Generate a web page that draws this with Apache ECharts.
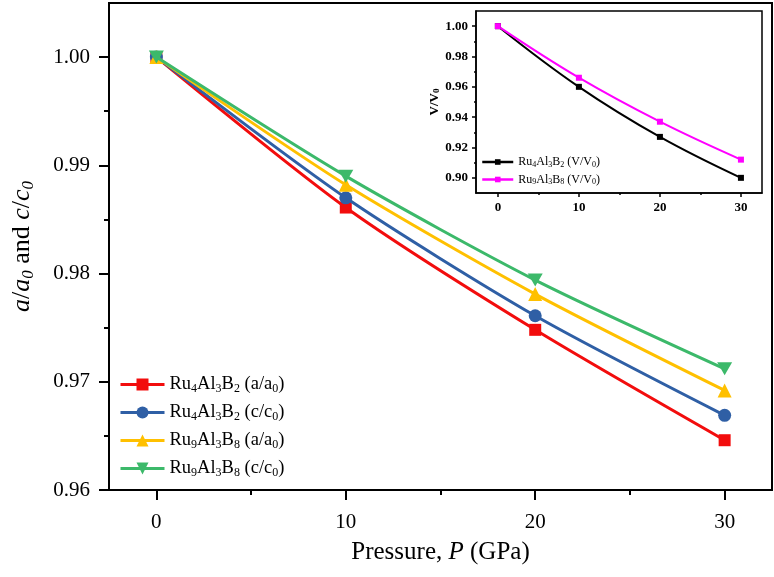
<!DOCTYPE html>
<html>
<head>
<meta charset="utf-8">
<script src="https://cdn.jsdelivr.net/npm/echarts@6/dist/echarts.min.js"></script>
<style>html,body{margin:0;padding:0;background:#fff}#c{width:774px;height:577px}</style>
</head>
<body>
<div id="c"></div>
<script>
// ---- data ----
var pressure = [0, 10, 20, 30];
var ru4A = [1.0000, 0.9861, 0.9748, 0.9646];
var ru4C = [1.0000, 0.9870, 0.9761, 0.9669];
var ru9A = [1.0000, 0.9882, 0.9781, 0.9692];
var ru9C = [1.0000, 0.9890, 0.9794, 0.9712];
var ru4V = [1.000, 0.960, 0.927, 0.900];
var ru9V = [1.000, 0.966, 0.937, 0.912];
var mainXTicks = [0, 10, 20, 30];
var mainXMinor = [5, 15, 25];
var mainYTicks = [0.96, 0.97, 0.98, 0.99, 1.00];
var mainYMinor = [0.965, 0.975, 0.985, 0.995];
var insetXTicks = [0, 10, 20, 30];
var insetXMinor = [5, 15, 25];
var insetYTicks = [0.90, 0.92, 0.94, 0.96, 0.98, 1.00];
var insetYMinor = [0.91, 0.93, 0.95, 0.97, 0.99];
var names = ['Ru4Al3B2 (a/a0)', 'Ru4Al3B2 (c/c0)', 'Ru9Al3B8 (a/a0)', 'Ru9Al3B8 (c/c0)'];
var insetNames = ['Ru4Al3B2 (V/V0)', 'Ru9Al3B8 (V/V0)'];

var FONT = "'Liberation Serif','Times New Roman',serif";
function pairs(xs, ys) { return xs.map(function (x, i) { return [x, ys[i]]; }); }
function richName(n) {
  var m = n.match(/^Ru(\d)Al(\d)B(\d) \((\w)\/(\w)(\d)\)$/);
  return '{n|Ru}{s|' + m[1] + '}{n|Al}{s|' + m[2] + '}{n|B}{s|' + m[3] + '}{n| (' + m[4] + '/' + m[5] + '}{s|' + m[6] + '}{n|)}';
}

var chart = echarts.init(document.getElementById('c'));

function majorX(grid, min, max, vals, fs, bold, len, lw, margin) {
  return {
    type: 'value', gridIndex: grid, min: min, max: max, position: 'bottom',
    axisLine: { show: true, onZero: false, lineStyle: { color: '#000', width: lw } },
    axisTick: { show: true, inside: false, length: len, customValues: vals, lineStyle: { color: '#000', width: lw } },
    axisLabel: { show: true, customValues: vals, margin: margin, color: '#000', fontFamily: FONT, fontSize: fs, fontWeight: bold ? 'bold' : 'normal' },
    splitLine: { show: false }
  };
}
function minorX(grid, min, max, vals, len, lw) {
  return {
    type: 'value', gridIndex: grid, min: min, max: max, position: 'bottom',
    axisLine: { show: false, onZero: false },
    axisTick: { show: true, length: len, customValues: vals, lineStyle: { color: '#000', width: lw } },
    axisLabel: { show: false }, splitLine: { show: false }
  };
}
function majorY(grid, min, max, vals, fs, bold, len, lw, margin) {
  return {
    type: 'value', gridIndex: grid, min: min, max: max, position: 'left',
    axisLine: { show: true, onZero: false, lineStyle: { color: '#000', width: lw } },
    axisTick: { show: true, inside: false, length: len, customValues: vals, lineStyle: { color: '#000', width: lw } },
    axisLabel: { show: true, customValues: vals, margin: margin, color: '#000', fontFamily: FONT, fontSize: fs, fontWeight: bold ? 'bold' : 'normal',
      formatter: function (v) { return v.toFixed(2); } },
    splitLine: { show: false }
  };
}
function minorY(grid, min, max, vals, len, lw) {
  return {
    type: 'value', gridIndex: grid, min: min, max: max, position: 'left',
    axisLine: { show: false, onZero: false },
    axisTick: { show: true, length: len, customValues: vals, lineStyle: { color: '#000', width: lw } },
    axisLabel: { show: false }, splitLine: { show: false }
  };
}

var xMain = majorX(0, -2.5, 32.5, mainXTicks, 21, false, 10, 2, 22);
xMain.name = '{n|Pressure, }{i|P}{n| (GPa)}';
xMain.nameLocation = 'middle';
xMain.nameGap = 50;
xMain.nameTextStyle = { color: '#000', fontFamily: FONT, fontSize: 25,
  rich: { n: { fontFamily: FONT, fontSize: 25, color: '#000' }, i: { fontFamily: FONT, fontSize: 25, fontStyle: 'italic', color: '#000' } } };

var yMain = majorY(0, 0.96, 1.005, mainYTicks, 21, false, 10, 2, 19);
yMain.name = '{i|a}{n|/}{i|a}{si|0}{n| and }{i|c}{n|/}{i|c}{si|0}';
yMain.nameLocation = 'middle';
yMain.nameGap = 72;
yMain.nameRotate = 90;
yMain.nameTextStyle = { color: '#000', fontFamily: FONT, fontSize: 26,
  rich: {
    n: { fontFamily: FONT, fontSize: 26, color: '#000' },
    i: { fontFamily: FONT, fontSize: 26, fontStyle: 'italic', color: '#000' },
    si: { fontFamily: FONT, fontSize: 17, fontStyle: 'italic', color: '#000', padding: [12, 0, 0, 0] }
  } };

var xIn = majorX(1, -2.7, 32.6, insetXTicks, 13, true, 4, 1.5, 8);
var yIn = majorY(1, 0.89, 1.01, insetYTicks, 13, true, 4, 1.5, 8);
yIn.name = '{b|V/V}{bs|0}';
yIn.nameLocation = 'middle';
yIn.nameGap = 32;
yIn.nameRotate = 90;
yIn.nameTextStyle = { color: '#000', fontFamily: FONT, fontSize: 13, fontWeight: 'bold',
  rich: { b: { fontFamily: FONT, fontSize: 13, fontWeight: 'bold', color: '#000' },
          bs: { fontFamily: FONT, fontSize: 9, fontWeight: 'bold', color: '#000', padding: [5, 0, 0, 0] } } };

var legendRich = {
  n: { fontFamily: FONT, fontSize: 18.5, color: '#000' },
  s: { fontFamily: FONT, fontSize: 12, color: '#000', padding: [9, 0, 0, 0] }
};
var legendRichSmall = {
  n: { fontFamily: FONT, fontSize: 12, color: '#000' },
  s: { fontFamily: FONT, fontSize: 8, color: '#000', padding: [5, 0, 0, 0] }
};

var invTri = 'path://M0,0L10,0L5,9Z';

var option = {
  backgroundColor: '#fff',
  animation: false,
  grid: [
    { left: 109, top: 3, right: 2, bottom: 87, show: true, borderColor: '#000', borderWidth: 2, backgroundColor: 'transparent', containLabel: false, outerBoundsMode: 'none' },
    { left: 476, top: 11, right: 12, bottom: 384, show: true, borderColor: '#000', borderWidth: 1.5, backgroundColor: '#fff', containLabel: false, outerBoundsMode: 'none' }
  ],
  xAxis: [xMain, minorX(0, -2.5, 32.5, mainXMinor, 5, 2), xIn, minorX(1, -2.7, 32.6, insetXMinor, 2, 1.5)],
  yAxis: [yMain, minorY(0, 0.96, 1.005, mainYMinor, 5, 2), yIn, minorY(1, 0.89, 1.01, insetYMinor, 2, 1.5)],
  legend: [
    { data: names, orient: 'vertical', left: 119, top: 375, padding: 0, itemWidth: 44, itemHeight: 15, itemGap: 8, z: 20,
      lineStyle: { width: 3 },
      formatter: richName, textStyle: { rich: legendRich, fontFamily: FONT, fontSize: 18.5, color: '#000' } },
    { data: insetNames, orient: 'vertical', left: 481, top: 156, padding: 0, itemWidth: 31, itemHeight: 7, itemGap: 5, z: 20,
      lineStyle: { width: 2.5 },
      formatter: richName, textStyle: { rich: legendRichSmall, fontFamily: FONT, fontSize: 12, color: '#000' } }
  ],
  series: [
    { name: names[0], type: 'line', xAxisIndex: 0, yAxisIndex: 0, data: pairs(pressure, ru4A), smooth: 0.25,
      symbol: 'rect', symbolSize: 12, color: '#f20d0d', lineStyle: { width: 3 }, z: 3 },
    { name: names[1], type: 'line', xAxisIndex: 0, yAxisIndex: 0, data: pairs(pressure, ru4C), smooth: 0.25,
      symbol: 'circle', symbolSize: 13, color: '#2f5fa5', lineStyle: { width: 3 }, z: 4 },
    { name: names[2], type: 'line', xAxisIndex: 0, yAxisIndex: 0, data: pairs(pressure, ru9A), smooth: 0.25,
      symbol: 'triangle', symbolSize: 14, color: '#ffc000', lineStyle: { width: 3 }, z: 5 },
    { name: names[3], type: 'line', xAxisIndex: 0, yAxisIndex: 0, data: pairs(pressure, ru9C), smooth: 0.25,
      symbol: invTri, symbolSize: [15, 13], color: '#3cb96a', lineStyle: { width: 3 }, z: 6 },
    { name: insetNames[0], type: 'line', xAxisIndex: 2, yAxisIndex: 2, data: pairs(pressure, ru4V), smooth: 0.4,
      symbol: 'rect', symbolSize: 6, color: '#000', lineStyle: { width: 2 }, z: 10 },
    { name: insetNames[1], type: 'line', xAxisIndex: 2, yAxisIndex: 2, data: pairs(pressure, ru9V), smooth: 0.4,
      symbol: 'rect', symbolSize: 6, color: '#ff00ff', lineStyle: { width: 2 }, z: 10 }
  ]
};
chart.setOption(option);
</script>
</body>
</html>
